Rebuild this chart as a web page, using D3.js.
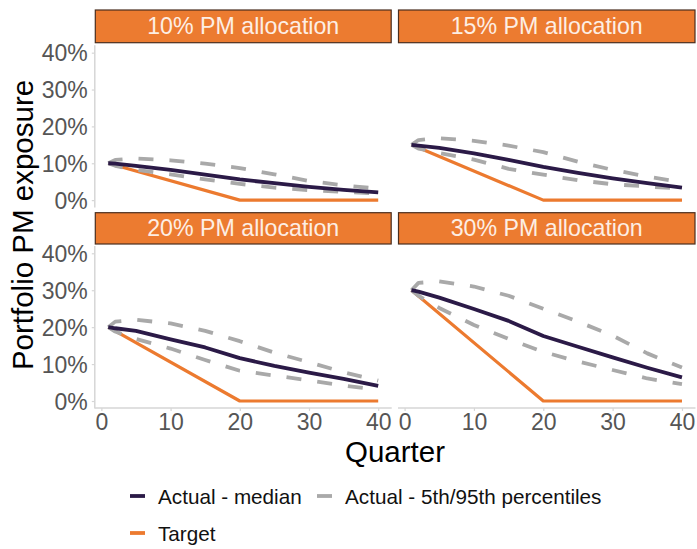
<!DOCTYPE html>
<html>
<head>
<meta charset="utf-8">
<script src="https://cdn.jsdelivr.net/npm/d3@7"></script>
<style>
  html, body { margin: 0; padding: 0; background: #fff; }
  svg { display: block; font-family: "Liberation Sans", Arial, sans-serif; }
</style>
</head>
<body>
<svg id="chart" width="697" height="549"></svg>
<script>
// ---- data ----
const panels = ["10% PM allocation", "15% PM allocation", "20% PM allocation", "30% PM allocation"];
const quarters = [1, 2, 5, 10, 15, 20, 25, 30, 35, 40];
const median = [
  [10, 9.9, 9.3, 8.2, 6.9, 5.6, 4.6, 3.6, 2.8, 2.1],
  [15, 14.8, 14.2, 12.7, 10.9, 9.0, 7.4, 5.9, 4.6, 3.4],
  [20, 19.7, 19.0, 16.7, 14.5, 11.6, 9.5, 7.7, 6.0, 4.1],
  [30, 29.6, 28.0, 24.9, 21.7, 17.6, 14.7, 11.8, 9.0, 6.4]
];
const upper = [
  [10, 10.9, 11.3, 10.8, 9.9, 8.7, 7.0, 5.2, 4.0, 3.1],
  [15, 16.3, 16.8, 16.1, 14.8, 13.0, 10.4, 8.2, 6.4, 4.8],
  [20, 21.5, 22.0, 21.0, 19.0, 16.2, 13.1, 10.5, 7.8, 5.5],
  [30, 32.0, 32.4, 31.0, 28.5, 25.0, 21.5, 17.7, 12.9, 9.1]
];
const lower = [
  [10, 9.3, 8.2, 7.0, 5.6, 4.4, 3.4, 2.7, 2.2, 1.8],
  [15, 14.0, 12.8, 11.0, 8.5, 6.9, 5.4, 4.3, 3.7, 3.1],
  [20, 18.8, 16.8, 14.2, 11.1, 8.2, 6.9, 5.6, 4.2, 3.0],
  [30, 28.5, 25.2, 20.6, 16.8, 13.3, 10.7, 8.4, 6.1, 4.6]
];
const targetQuarters = [1, 20, 40];
const allocation = [10, 15, 20, 30];
const yTicks = [0, 10, 20, 30, 40];
const xTicks = [0, 10, 20, 30, 40];
const legendItems = ["Actual - median", "Actual - 5th/95th percentiles", "Target"];

// ---- layout ----
const colors = { median: "#2b1a47", pct: "#a9a9a9", target: "#ec7a2f", strip: "#ec7b30", stripBorder: "#4a2e1e", axis: "#d6d6d6", tickText: "#555555" };
const cols = [[94.8, 391.7], [398, 695.5]];
const rows = [[45.3, 207.5], [245.9, 408.4]];
const strips = [[10, 42.7], [212.7, 244]];

const svg = d3.select("#chart");

panels.forEach((title, i) => {
  const c = i % 2, r = Math.floor(i / 2);
  const x = d3.scaleLinear().domain([-0.95, 41.95]).range(cols[c]);
  const y = d3.scaleLinear().domain([-2, 42]).range([rows[r][1], rows[r][0]]);
  const g = svg.append("g");

  // strip
  g.append("rect")
    .attr("x", cols[c][0] + 0.5).attr("y", strips[r][0])
    .attr("width", cols[c][1] - cols[c][0] - 1).attr("height", strips[r][1] - strips[r][0])
    .attr("fill", colors.strip).attr("stroke", colors.stripBorder).attr("stroke-width", 1.2);
  g.append("text")
    .attr("x", (cols[c][0] + cols[c][1]) / 2).attr("y", (strips[r][0] + strips[r][1]) / 2 + 8)
    .attr("text-anchor", "middle").attr("fill", "#fdeee4")
    .attr("font-size", 23.2).text(title);

  // axes
  if (c === 0) {
    const ya = g.append("g").attr("transform", `translate(${cols[c][0]},0)`)
      .call(d3.axisLeft(y).tickValues(yTicks).tickSize(3).tickPadding(4).tickFormat(d => d + "%"));
    ya.select(".domain").attr("stroke", colors.axis).attr("stroke-width", 1.5)
      .attr("d", `M0,${rows[r][0]}V${rows[r][1]}`);
    ya.selectAll(".tick line").attr("stroke", colors.axis).attr("stroke-width", 1.2);
    ya.selectAll(".tick text").attr("fill", colors.tickText).attr("font-size", 23)
      .attr("font-family", "'Liberation Sans', Arial, sans-serif").attr("dy", "0.36em");
  }
  if (r === 1) {
    const xa = g.append("g").attr("transform", `translate(0,${rows[r][1] - 0.5})`)
      .call(d3.axisBottom(x).tickValues(xTicks).tickSize(3).tickPadding(3));
    xa.select(".domain").attr("stroke", colors.axis).attr("stroke-width", 1.5)
      .attr("d", `M${cols[c][0]},0H${cols[c][1]}`);
    xa.selectAll(".tick line").attr("stroke", colors.axis).attr("stroke-width", 1.2);
    xa.selectAll(".tick text").attr("fill", colors.tickText).attr("font-size", 23)
      .attr("font-family", "'Liberation Sans', Arial, sans-serif");
  }

  const line = d3.line().x(d => x(d[0])).y(d => y(d[1]));
  const tgt = targetQuarters.map(q => [q, q >= 20 ? 0 : allocation[i]]);
  g.append("path").attr("d", line(tgt)).attr("fill", "none")
    .attr("stroke", colors.target).attr("stroke-width", 3.2).attr("stroke-linejoin", "round");
  [upper[i], lower[i]].forEach(s => {
    g.append("path").attr("d", line(quarters.map((q, k) => [q, s[k]])))
      .attr("fill", "none").attr("stroke", colors.pct).attr("stroke-width", 3.8)
      .attr("stroke-dasharray", "15,16").attr("stroke-linejoin", "round");
  });
  g.append("path").attr("d", line(quarters.map((q, k) => [q, median[i][k]])))
    .attr("fill", "none").attr("stroke", colors.median).attr("stroke-width", 3.8)
    .attr("stroke-linejoin", "round");
});

// axis titles
svg.append("text").attr("transform", "translate(33,225) rotate(-90)")
  .attr("text-anchor", "middle").attr("font-size", 29.5).attr("fill", "#000")
  .text("Portfolio PM exposure");
svg.append("text").attr("x", 395).attr("y", 462)
  .attr("text-anchor", "middle").attr("font-size", 29.5).attr("fill", "#000")
  .text("Quarter");

// legend
const legend = [
  { label: legendItems[0], color: colors.median, kx: 130, tx: 158, y: 496 },
  { label: legendItems[1], color: colors.pct, kx: 317, tx: 345, y: 496 },
  { label: legendItems[2], color: colors.target, kx: 130, tx: 158, y: 533 }
];
legend.forEach(d => {
  svg.append("line").attr("x1", d.kx).attr("x2", d.kx + 15).attr("y1", d.y).attr("y2", d.y)
    .attr("stroke", d.color).attr("stroke-width", 3.8);
  svg.append("text").attr("x", d.tx).attr("y", d.y + 7.5).attr("font-size", 20.7)
    .attr("fill", "#111").text(d.label);
});
</script>
</body>
</html>
